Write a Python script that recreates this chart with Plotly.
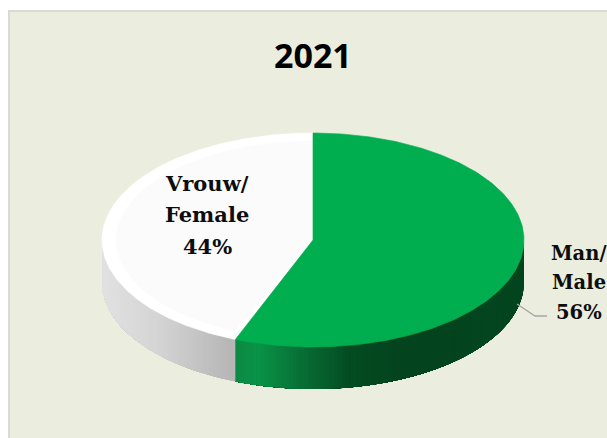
import numpy as np
import plotly.graph_objects as go

title = "2021"
categories = ["Man/<br>Male", "Vrouw/<br>Female"]
category_lines = [["Man/", "Male"], ["Vrouw/", "Female"]]
values = [56, 44]

BG = "#ebeede"
CX, CY, RX, RY, DEPTH = 313, 240, 211, 107, 42
total = sum(values)
a0 = 0.0
a1 = 2 * np.pi * values[0] / total
a2 = 2 * np.pi


def ex(a, rx=RX):
    return CX + rx * np.sin(a)


def ey(a, ry=RY):
    return CY - ry * np.cos(a)


def lerp_stops(stops, t):
    ts = [s[0] for s in stops]
    r = np.interp(t, ts, [s[1][0] for s in stops])
    g = np.interp(t, ts, [s[1][1] for s in stops])
    b = np.interp(t, ts, [s[1][2] for s in stops])
    return f"rgb({int(r)},{int(g)},{int(b)})"


fig = go.Figure()


def poly(xs, ys, fill, name, lw=0.6):
    fig.add_trace(go.Scatter(x=xs, y=ys, mode="lines", fill="toself", fillcolor=fill,
                             line=dict(color=fill, width=lw), hoverinfo="skip",
                             showlegend=False, name=name))


# Side wall: painted from the slice's far end inward, each band overlapping the next
green_stops = [(232, (12, 136, 66)), (258, (10, 148, 72)), (300, (8, 112, 54)),
               (350, (4, 76, 34)), (400, (3, 68, 30)), (530, (3, 70, 31))]
grey_stops = [(102, (226, 226, 226)), (160, (212, 212, 212)), (232, (182, 182, 182))]


def side(start, end, stops, name, bands):
    edges = np.linspace(start, end, bands + 1)
    for s, e in zip(edges[:-1], edges[1:]):
        sub = np.linspace(s, end, 40)
        xs = list(ex(sub)) + list(ex(sub[::-1]))
        ys = list(ey(sub)) + list(ey(sub[::-1]) + DEPTH)
        poly(xs, ys, lerp_stops(stops, ex((s + e) / 2)), name, 0)


side(np.pi / 2, a1, green_stops, categories[0], 110)
side(a1, 3 * np.pi / 2, grey_stops, categories[1], 60)


def slice_top(start, end, fill, name, rx=RX, ry=RY):
    t = np.linspace(start, end, 240)
    poly([CX] + list(ex(t, rx)) + [CX], [CY] + list(ey(t, ry)) + [CY], fill, name)


slice_top(a1, a2, "#ffffff", categories[1])
slice_top(a1 + 0.03, a2, "#fbfbfb", categories[1], RX - 14, RY - 8)
slice_top(a0, a1, "#00ae50", categories[0])

# Leader line for the outside label
fig.add_trace(go.Scatter(x=[517, 535, 547], y=[304, 316, 316], mode="lines",
                         line=dict(color="#a6a6a6", width=1.3), hoverinfo="skip",
                         showlegend=False))

anns = []


def put(text, x, y, font):
    anns.append(dict(x=x, y=y, xref="x", yref="y", text=text, showarrow=False,
                     xanchor="center", yanchor="middle", font=font))


put(title, 313, 55, dict(family="Open Sans", size=34, color="#000000", weight="bold"))
for line, y in zip(category_lines[1] + [f"{values[1]}%"], [183, 214, 246]):
    put(line, 207, y, dict(family="DejaVu Serif", size=21, color="#0d0d0d", weight="bold"))
for line, y in zip(category_lines[0] + [f"{values[0]}%"], [253, 282, 312]):
    put(line, 579, y, dict(family="DejaVu Serif", size=19.5, color="#0d0d0d", weight="bold"))

fig.update_layout(
    width=607, height=438, margin=dict(l=0, r=0, t=0, b=0),
    paper_bgcolor="#ffffff", plot_bgcolor="#ffffff",
    xaxis=dict(range=[0, 607], visible=False, fixedrange=True),
    yaxis=dict(range=[438, 0], visible=False, fixedrange=True),
    annotations=anns,
    shapes=[dict(type="rect", xref="x", yref="y", x0=9, y0=11, x1=620, y1=450,
                 fillcolor=BG, line=dict(color="#d9d9d9", width=2), layer="below")],
)
fig.write_html("out.html", config={"displayModeBar": False},
               post_script="document.body.style.margin='0';document.documentElement.style.overflow='hidden';")
